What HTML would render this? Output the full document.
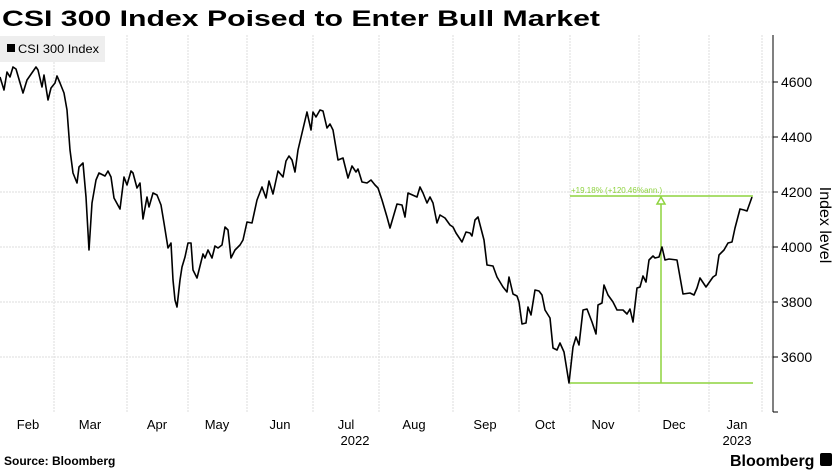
<!DOCTYPE html>
<html><head><meta charset="utf-8"><style>
body{margin:0;background:#fff;width:837px;height:470px;overflow:hidden;font-family:"Liberation Sans",sans-serif}
</style></head><body>
<svg width="837" height="470" xmlns="http://www.w3.org/2000/svg" font-family="Liberation Sans, sans-serif">
<text x="2" y="26" font-size="22" font-weight="bold" fill="#000" textLength="598" lengthAdjust="spacingAndGlyphs">CSI 300 Index Poised to Enter Bull Market</text>
<g stroke="#ddd" stroke-width="1" stroke-dasharray="2,1">
<line x1="0" y1="82" x2="773" y2="82"/><line x1="0" y1="137" x2="773" y2="137"/><line x1="0" y1="192" x2="773" y2="192"/><line x1="0" y1="247" x2="773" y2="247"/><line x1="0" y1="302" x2="773" y2="302"/><line x1="0" y1="357" x2="773" y2="357"/>
<line x1="54" y1="35" x2="54" y2="412"/><line x1="127" y1="35" x2="127" y2="412"/><line x1="188" y1="35" x2="188" y2="412"/><line x1="247" y1="35" x2="247" y2="412"/><line x1="313" y1="35" x2="313" y2="412"/><line x1="379" y1="35" x2="379" y2="412"/><line x1="453" y1="35" x2="453" y2="412"/><line x1="519" y1="35" x2="519" y2="412"/><line x1="570" y1="35" x2="570" y2="412"/><line x1="639" y1="35" x2="639" y2="412"/><line x1="709" y1="35" x2="709" y2="412"/><line x1="762" y1="35" x2="762" y2="412"/>
</g>
<rect x="0" y="36" width="105" height="26" fill="#eee"/>
<rect x="7" y="44" width="8" height="8" fill="#000"/>
<text x="18" y="53" font-size="12" fill="#000" textLength="81" lengthAdjust="spacingAndGlyphs">CSI 300 Index</text>
<line x1="773" y1="35" x2="773" y2="412" stroke="#000"/>
<g stroke="#000"><line x1="773" y1="82" x2="778" y2="82"/><line x1="773" y1="137" x2="778" y2="137"/><line x1="773" y1="192" x2="778" y2="192"/><line x1="773" y1="247" x2="778" y2="247"/><line x1="773" y1="302" x2="778" y2="302"/><line x1="773" y1="357" x2="778" y2="357"/><line x1="773" y1="412" x2="778" y2="412"/></g>
<g font-size="14" fill="#000"><text x="781" y="87">4600</text><text x="781" y="142">4400</text><text x="781" y="197">4200</text><text x="781" y="252">4000</text><text x="781" y="307">3800</text><text x="781" y="362">3600</text></g>
<text transform="translate(820,225) rotate(90)" font-size="16" text-anchor="middle" fill="#000">Index level</text>
<g font-size="13" fill="#000" text-anchor="middle"><text x="28" y="429">Feb</text><text x="90" y="429">Mar</text><text x="157" y="429">Apr</text><text x="217" y="429">May</text><text x="280" y="429">Jun</text><text x="346" y="429">Jul</text><text x="414" y="429">Aug</text><text x="485" y="429">Sep</text><text x="545" y="429">Oct</text><text x="603" y="429">Nov</text><text x="674" y="429">Dec</text><text x="737" y="429">Jan</text><text x="355" y="445">2022</text><text x="737" y="445">2023</text></g>
<g stroke="#8ed33f" stroke-width="1.5" fill="none">
<line x1="570" y1="196" x2="753" y2="196"/><line x1="570" y1="383" x2="753" y2="383"/><line x1="661" y1="383" x2="661" y2="202"/>
<polygon points="657,204 665,204 661,197" fill="#fff"/>
</g>
<text x="571" y="193" font-size="8" fill="#8ed33f">+19.18% (+120.46%ann.)</text>
<polyline fill="none" stroke="#000" stroke-width="1.6" stroke-linejoin="round" points="0,77 4,90 7,72 10,77 13,67 16,69 23,93 27,80 36,67 38,70 42,87 44,75 48,100 51,88 55,83 57,76 60,83 64,93 67,110 70,150 73,173 77,183 79,167 83,163 86,197 89,250 92,203 96,180 99,173 105,176 108,171 111,177 114,198 120,209 124,177 127,185 131,171 133,173 137,188 140,183 143,219 147,197 149,207 153,193 157,195 161,205 164,223 168,248 171,243 173,280 175,300 177,307 180,280 182,267 185,257 188,243 191,243 193,270 197,278 203,254 205,258 208,250 212,258 215,246 218,248 222,245 225,227 228,230 231,258 235,250 240,245 243,240 247,222 252,223 257,200 262,187 266,198 269,181 273,194 278,171 283,177 286,161 289,156 292,160 295,172 298,150 307,112 311,130 313,112 316,117 320,110 323,111 327,128 330,124 333,130 338,160 343,158 348,178 352,166 356,172 358,169 362,182 367,183 371,180 375,185 378,188 382,200 387,217 390,228 397,204 402,205 405,217 408,193 417,197 420,187 423,193 427,203 430,197 433,203 437,223 440,215 445,218 450,225 453,227 456,233 462,242 466,232 470,233 472,236 475,220 478,217 484,240 487,265 493,266 497,277 503,287 507,292 509,277 513,294 517,296 519,302 522,324 526,323 528,307 531,315 535,290 539,291 542,295 545,310 550,318 553,348 557,350 560,343 564,352 569,383 573,347 576,337 579,345 583,310 587,309 592,322 596,334 598,305 602,303 604,285 608,295 613,302 617,310 623,310 627,314 630,309 633,322 637,288 640,287 643,276 646,282 649,260 653,256 655,258 659,257 662,247 665,260 669,259 677,260 683,294 690,293 694,295 697,288 700,278 706,287 713,277 716,275 719,255 724,250 728,243 732,242 735,228 740,209 744,210 747,211 752,197"/>
<text x="4" y="465" font-size="12" font-weight="bold" fill="#000">Source: Bloomberg</text>
<text x="730" y="466" font-size="16" font-weight="bold" fill="#000">Bloomberg</text>
<rect x="820" y="453" width="12" height="13" rx="2" fill="#000"/>
</svg>
</body></html>
